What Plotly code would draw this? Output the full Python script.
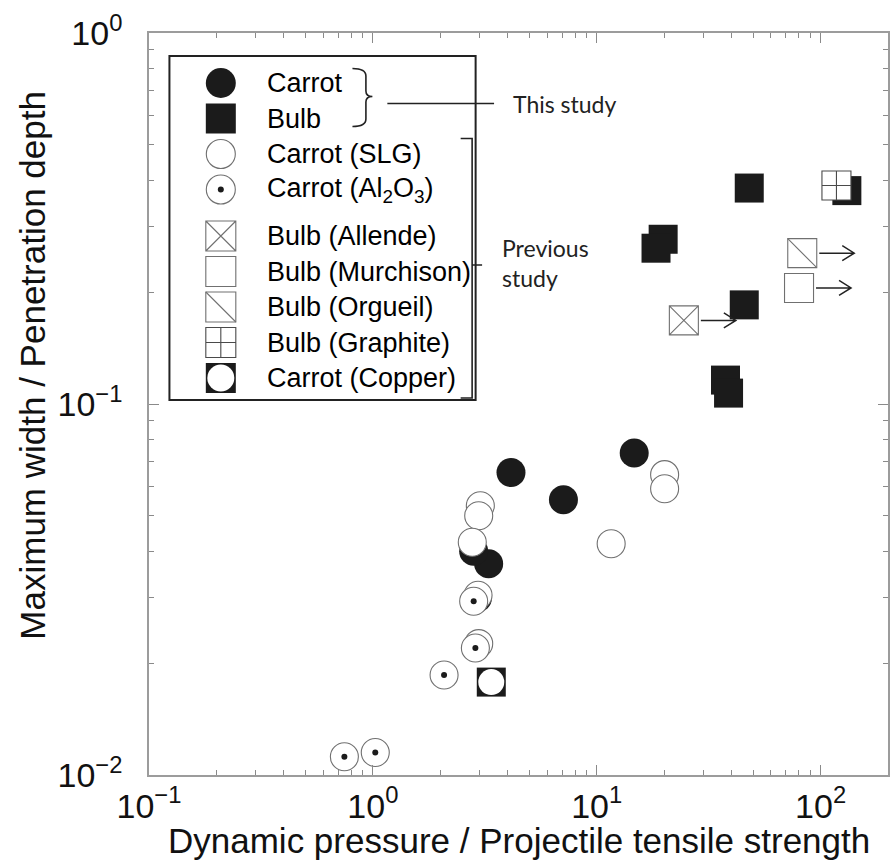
import numpy as np
import plotly.graph_objects as go

# ---- data: crater shape vs. dynamic pressure ----
# this study
carrot_x = [4.14, 7.10, 14.7, 3.29, 2.82, 2.93]
carrot_y = [0.0654, 0.0552, 0.0738, 0.0371, 0.0401, 0.0300]
bulb_x = [48.0, 131.0, 19.8, 18.4, 45.6, 37.6, 38.8]
bulb_y = [0.382, 0.376, 0.278, 0.263, 0.185, 0.116, 0.107]
# previous study
slg_x = [3.02, 2.97, 2.78, 11.6, 20.1, 20.1, 2.95, 2.97]
slg_y = [0.0532, 0.0500, 0.0424, 0.0420, 0.0645, 0.0591, 0.0305, 0.0226]
alumina_x = [2.82, 2.87, 2.08, 0.746, 1.025]
alumina_y = [0.0294, 0.0220, 0.0186, 0.0112, 0.0115]
allende_x, allende_y = [24.5], [0.168]
murchison_x, murchison_y = [80.1], [0.2055]
orgueil_x, orgueil_y = [82.8], [0.255]
graphite_x, graphite_y = [117.7], [0.388]
copper_x, copper_y = [3.38], [0.0178]

x_ticks = [0.1, 1, 10, 100]
x_ticktext = ["10<sup>\u22121</sup>", "10<sup>0</sup>", "10<sup>1</sup>", "10<sup>2</sup>"]
y_ticks = [0.01, 0.1, 1]
y_ticktext = ["10<sup>\u22122</sup>", "10<sup>\u22121</sup>", "10<sup>0</sup>"]

legend_labels = ["Carrot", "Bulb", "Carrot (SLG)", "Carrot (Al<sub>2</sub>O<sub>3</sub>)",
                 "Bulb (Allende)", "Bulb (Murchison)", "Bulb (Orgueil)",
                 "Bulb (Graphite)", "Carrot (Copper)"]

BLACK = "#1b1b1b"
GREY = "#707070"
AXIS = "#9c9c9c"
FONT = "Liberation Sans, Arial, sans-serif"
NOTE_FONT = "Lato, Open Sans, sans-serif"

# marker layers per series (drawn bottom to top)
def filled(sym, size=29):
    return dict(symbol=sym, size=size, color=BLACK, line=dict(width=0))

def hollow(sym, size=29, lc=GREY, lw=1.1):
    return dict(symbol=sym, size=size, color="white", line=dict(color=lc, width=lw))

series = [
    (carrot_x, carrot_y, [filled("circle", 29)]),
    (bulb_x, bulb_y, [filled("square", 29)]),
    (slg_x, slg_y, [hollow("circle", 28)]),
    (alumina_x, alumina_y, [hollow("circle", 28), filled("circle", 6)]),
    (allende_x, allende_y, [hollow("square-x", 29)]),
    (murchison_x, murchison_y, [hollow("square", 29)]),
    (orgueil_x, orgueil_y, [hollow("square", 29),
                            dict(symbol="line-nw", size=29, color=GREY,
                                 line=dict(color=GREY, width=1.1))]),
    (graphite_x, graphite_y, [hollow("square-cross", 29, lc="#4a4a4a")]),
    (copper_x, copper_y, [filled("square", 29),
                          dict(symbol="circle", size=26, color="white", line=dict(width=0))]),
]

fig = go.Figure()

for xs, ys, layers in series:
    for mk in layers:
        fig.add_trace(go.Scatter(x=xs, y=ys, mode="markers", marker=mk,
                                 showlegend=False, hoverinfo="skip"))

# legend box drawn on a pixel-scaled overlay axis pair
L, R, T, B = 149, 890, 33, 775
row_y = []
yy = 83.0
for i in range(len(legend_labels)):
    row_y.append(yy)
    yy += 46.5 if i == 3 else 35.5
mark_x = 221
text_x = 265

for (xs, ys, layers), ry in zip(series, row_y):
    for mk in layers:
        m = dict(mk)
        if m["size"] > 10:
            m["size"] = m["size"] + 1
        fig.add_trace(go.Scatter(x=[mark_x], y=[ry], xaxis="x2", yaxis="y2",
                                 mode="markers", marker=m, showlegend=False,
                                 hoverinfo="skip"))

annotations = []
for lab, ry in zip(legend_labels, row_y):
    annotations.append(dict(x=text_x, y=ry, xref="x2", yref="y2", text=lab,
                            showarrow=False, xanchor="left", yanchor="middle",
                            font=dict(family=FONT, size=27, color="black")))

annotations += [
    dict(x=512, y=104, xref="x2", yref="y2", text="This study", showarrow=False,
         xanchor="left", yanchor="middle", font=dict(family=NOTE_FONT, size=23, color="#222")),
    dict(x=501, y=248, xref="x2", yref="y2", text="Previous", showarrow=False,
         xanchor="left", yanchor="middle", font=dict(family=NOTE_FONT, size=23, color="#222")),
    dict(x=501, y=278, xref="x2", yref="y2", text="study", showarrow=False,
         xanchor="left", yanchor="middle", font=dict(family=NOTE_FONT, size=23, color="#222")),
    # axis titles
    dict(x=0.5, y=-0.088, xref="paper", yref="paper", showarrow=False,
         text="Dynamic pressure / Projectile tensile strength",
         xanchor="center", yanchor="middle", font=dict(family=FONT, size=35, color="#111")),
    dict(x=-0.158, y=0.552, xref="paper", yref="paper", showarrow=False, textangle=-90,
         text="Maximum width / Penetration depth",
         xanchor="center", yanchor="middle", font=dict(family=FONT, size=35, color="#111")),
]

shapes = [
    dict(type="rect", xref="x2", yref="y2", x0=169.5, y0=56, x1=476.5, y1=400,
         line=dict(color="#222", width=2), fillcolor="white", layer="below"),
    # brace for this study
    dict(type="path", xref="x2", yref="y2", layer="above",
         path="M 353,68.5 Q 366.5,68.5 366.5,76 L 366.5,91 Q 366.5,96.5 373,96.5 "
              "Q 366.5,96.5 366.5,102 L 366.5,119 Q 366.5,126.5 353,126.5",
         line=dict(color="#222", width=1.6)),
    dict(type="line", xref="x2", yref="y2", x0=388, y0=103.5, x1=495, y1=103.5,
         line=dict(color="#222", width=1.6), layer="above"),
    # bracket for previous study
    dict(type="path", xref="x2", yref="y2", layer="above",
         path="M 461.5,138.5 L 473,138.5 L 473,398 L 461.5,398 M 473,265 L 483,265",
         line=dict(color="#222", width=1.6)),
]

# lower-limit arrows on meteorite projectiles
for xs, ys in [(allende_x, allende_y), (murchison_x, murchison_y), (orgueil_x, orgueil_y)]:
    for xv, yv in zip(xs, ys):
        shapes.append(dict(type="path", xref="x", yref="y", xsizemode="pixel",
                           ysizemode="pixel", xanchor=xv, yanchor=yv, layer="above",
                           path="M 17,0 L 52,0 M 40,-7.5 L 52,0 L 40,7.5",
                           line=dict(color="#222", width=1.5)))

minor_vals = [k * 10.0 ** e for e in range(-3, 3) for k in range(2, 10)]

axis_common = dict(showline=True, linecolor=AXIS, linewidth=1.5, mirror="ticks",
                   ticks="inside", ticklen=10, tickwidth=1, tickcolor="#8a8a8a",
                   showgrid=False, zeroline=False,
                   tickfont=dict(family=FONT, size=34, color="#111"),
                   minor=dict(ticks="inside", ticklen=5, tickwidth=1, tickcolor="#8a8a8a",
                              tickmode="array", tickvals=minor_vals, showgrid=False))

fig.update_layout(
    width=892, height=864,
    margin=dict(l=L, r=892 - R, t=T, b=864 - B),
    paper_bgcolor="white", plot_bgcolor="white",
    showlegend=False,
    xaxis=dict(type="log", range=[-1, np.log10(200)], tickmode="array",
               tickvals=x_ticks, ticktext=x_ticktext, **axis_common),
    yaxis=dict(type="log", range=[-2, 0], tickmode="array",
               tickvals=y_ticks, ticktext=y_ticktext, ticklabelstandoff=18, **axis_common),
    xaxis2=dict(overlaying="x", range=[L, R], visible=False, fixedrange=True, anchor="y2"),
    yaxis2=dict(overlaying="y", range=[B, T], visible=False, fixedrange=True, anchor="x2"),
    shapes=shapes,
    annotations=annotations,
)

fig.write_html("out.html")
